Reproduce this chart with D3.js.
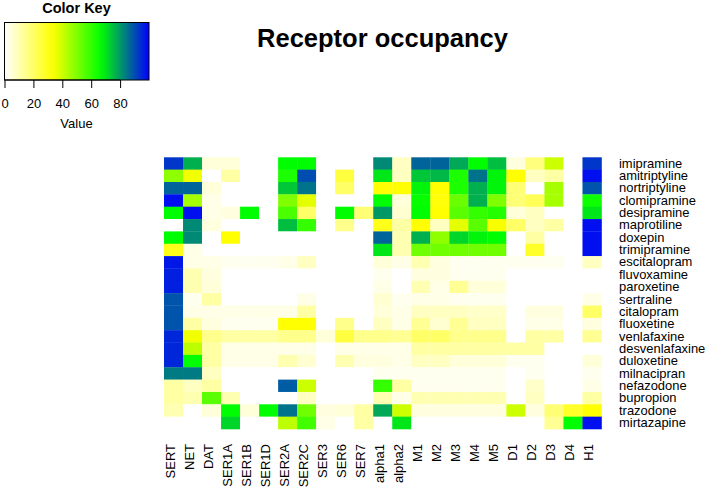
<!DOCTYPE html>
<html><head><meta charset="utf-8">
<script src="https://cdn.jsdelivr.net/npm/d3@7"></script>
<style>body{margin:0;background:#fff;} text{font-family:"Liberation Sans",Arial,sans-serif;}</style>
</head><body><svg id="c" width="709" height="492"></svg>
<script>
const receptors = ["SERT","NET","DAT","SER1A","SER1B","SER1D","SER2A","SER2C","SER3","SER6","SER7","alpha1","alpha2","M1","M2","M3","M4","M5","D1","D2","D3","D4","H1"];
const drugs = ["imipramine","amitriptyline","nortriptyline","clomipramine","desipramine","maprotiline","doxepin","trimipramine","escitalopram","fluvoxamine","paroxetine","sertraline","citalopram","fluoxetine","venlafaxine","desvenlafaxine","duloxetine","milnacipran","nefazodone","bupropion","trazodone","mirtazapine"];
// occupancy (%) per drug, one row per drug, columns in receptor order
const occupancy = [
 [93,77,5,5,0,0,67,67,0,0,0,82,8,87,87,78,67,75,4,17,40,0,93],
 [48,35,0,12,0,0,63,90,0,25,0,70,8,74,76,63,85,68,33,8,12,0,98],
 [87,87,5,0,0,0,74,85,0,20,0,33,33,68,33,63,77,68,18,0,45,0,89],
 [98,45,3,0,0,0,50,37,0,0,0,67,5,66,32,53,77,50,18,22,45,0,65],
 [67,98,3,4,67,0,57,20,0,67,18,80,6,67,33,55,60,62,5,8,0,0,70],
 [0,82,4,0,0,0,75,60,0,15,0,30,12,33,8,37,55,34,20,8,12,0,98],
 [67,82,0,33,0,0,0,0,0,0,0,87,10,77,48,72,68,67,0,12,0,0,98],
 [30,3,0,0,0,0,0,0,0,0,0,70,10,52,52,52,52,52,0,28,0,0,98],
 [97,3,3,2,2,2,3,8,0,0,0,5,3,10,4,2,2,2,2,2,2,0,8],
 [96,10,4,0,0,0,0,0,0,0,0,2,0,4,4,2,2,2,0,0,0,0,0],
 [96,10,5,0,0,0,0,0,0,0,0,3,0,10,3,14,5,5,0,0,0,0,0],
 [89,2,12,0,0,0,0,3,0,0,0,6,2,3,3,2,2,2,0,0,0,0,3],
 [89,3,3,3,3,3,3,12,0,0,0,5,3,8,8,8,7,7,0,4,4,0,20],
 [89,12,4,2,2,2,33,33,0,15,0,8,3,14,6,14,8,8,0,3,3,0,4],
 [95,35,15,12,12,12,15,15,5,25,15,15,14,20,20,15,15,15,0,12,12,0,14],
 [95,42,12,3,3,3,3,3,0,3,3,3,3,12,12,12,12,12,12,12,0,0,0],
 [95,67,12,3,3,3,10,6,0,10,4,4,3,8,8,5,5,5,2,2,0,0,5],
 [84,84,8,0,0,0,0,0,0,0,0,2,2,2,2,2,2,2,0,2,0,0,2],
 [12,8,12,0,0,0,88,40,0,0,0,60,12,2,2,2,2,2,0,7,0,0,3],
 [12,10,55,10,0,0,0,8,0,0,0,10,3,10,10,10,10,10,0,8,0,0,12],
 [10,0,5,67,5,67,85,52,4,5,12,78,40,4,4,4,4,4,40,4,18,28,33],
 [0,0,0,72,0,0,42,58,3,0,12,0,70,0,0,0,0,0,0,0,14,67,98]
];
const keyTicks = [0,20,40,60,80];

const svg = d3.select("#c");
const color = d3.scaleLinear().domain([0,33.3,66.7,100]).range(["#ffffff","#ffff00","#00ff00","#0000ff"]).interpolate(d3.interpolateRgb).clamp(true);

const x = d3.scaleBand().domain(receptors).range([164,601.5]).padding(0);
const y = d3.scaleBand().domain(drugs).range([157.3,429]).padding(0);

const cells = [];
drugs.forEach((d,i)=>receptors.forEach((r,j)=>cells.push({d,r,v:occupancy[i][j]})));
svg.append("g").selectAll("rect").data(cells).join("rect")
  .attr("x",c=>x(c.r)).attr("y",c=>y(c.d))
  .attr("width",x.bandwidth()+0.3).attr("height",y.bandwidth()+0.3)
  .attr("fill",c=>color(c.v));

svg.append("g").selectAll("text").data(drugs).join("text")
  .attr("transform",d=>`translate(619,${y(d)+y.bandwidth()/2}) scale(1.08,1)`)
  .attr("dy","0.35em")
  .attr("font-size",12).text(d=>d);

svg.append("g").selectAll("text").data(receptors).join("text")
  .attr("transform",r=>`translate(${x(r)+x.bandwidth()/2},444) rotate(-90)`)
  .attr("dy","0.1em").attr("text-anchor","end").attr("font-size",13).text(r=>r);

svg.append("text").attr("x",382.5).attr("y",46.5).attr("text-anchor","middle")
  .attr("font-size",25.5).attr("font-weight","bold").text("Receptor occupancy");

// color key
const kx = d3.scaleLinear().domain([0,100]).range([4.5,149]);
const defs = svg.append("defs");
const grad = defs.append("linearGradient").attr("id","kg").attr("x1","0%").attr("x2","100%");
d3.range(0,101,5).forEach(v=>grad.append("stop").attr("offset",v+"%").attr("stop-color",color(v)));
svg.append("rect").attr("x",kx(0)).attr("y",22.5).attr("width",kx(100)-kx(0)).attr("height",57.5)
  .attr("fill","url(#kg)").attr("stroke","#000").attr("stroke-width",1);
const kAxis = d3.axisBottom(kx).tickValues(keyTicks).tickSize(8).tickPadding(11);
const ka = svg.append("g").attr("transform","translate(0,80)").call(kAxis);
ka.select(".domain").attr("d",`M${kx(0)},0H${kx(80)}`);
ka.selectAll("text").attr("font-size",13).attr("font-family","Liberation Sans, Arial, sans-serif").attr("fill","#000");
svg.append("text").attr("x",76.5).attr("y",12.5).attr("text-anchor","middle").attr("font-size",14.5).attr("font-weight","bold").text("Color Key");
svg.append("text").attr("x",76.5).attr("y",128.3).attr("text-anchor","middle").attr("font-size",13).text("Value");
</script></body></html>
